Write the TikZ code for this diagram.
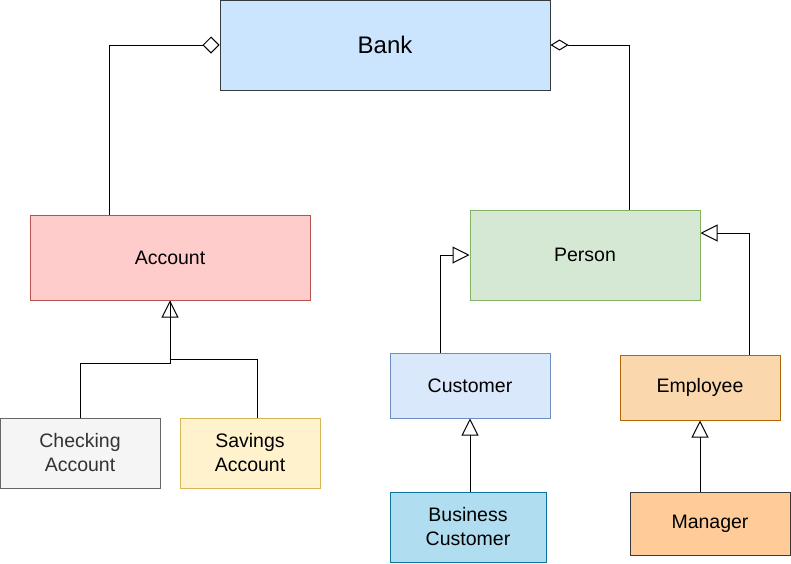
\documentclass[tikz,border=0pt]{standalone}
\usepackage{fontspec}
\setmainfont{Liberation Sans}
\usetikzlibrary{arrows.meta}
\definecolor{bankfill}{HTML}{CCE5FF}
\definecolor{darkline}{HTML}{36393D}
\definecolor{accfill}{HTML}{FFCCCC}
\definecolor{accline}{HTML}{B85450}
\definecolor{perfill}{HTML}{D5E8D4}
\definecolor{perline}{HTML}{82B366}
\definecolor{chkfill}{HTML}{F5F5F5}
\definecolor{chkline}{HTML}{666666}
\definecolor{chktext}{HTML}{333333}
\definecolor{savfill}{HTML}{FFF2CC}
\definecolor{savline}{HTML}{D6B656}
\definecolor{cusfill}{HTML}{DAE8FC}
\definecolor{cusline}{HTML}{6C8EBF}
\definecolor{empfill}{HTML}{FAD7AC}
\definecolor{empline}{HTML}{B46504}
\definecolor{busfill}{HTML}{B1DDF0}
\definecolor{busline}{HTML}{10739E}
\definecolor{manfill}{HTML}{FFCC99}

\begin{document}
\begin{tikzpicture}[x=1pt, y=-1pt, line width=1pt,
  cls/.style = {draw, rectangle, inner sep=0pt, align=center,
    font=\fontsize{19.5}{24}\selectfont},
  agg/.style = {-{Diamond[open, length=17pt, width=17pt]}},
  aggthin/.style = {-{Diamond[open, length=18pt, width=11pt]}},
  inh/.style = {-{Triangle[open, length=17pt, width=17pt]}}]
\useasboundingbox (0,0) rectangle (791,563);
\node[cls, fill=bankfill, draw=darkline, minimum width=330pt, minimum height=90pt,
  font=\fontsize{24}{28}\selectfont] (bank) at (385,45) {Bank};
\node[cls, fill=accfill, draw=accline, minimum width=280pt, minimum height=85pt] (acc) at (170,257.5) {Account};
\node[cls, fill=perfill, draw=perline, minimum width=230pt, minimum height=90pt] (per) at (585,255) {Person};
\node[cls, fill=chkfill, draw=chkline, text=chktext, minimum width=160pt, minimum height=70pt] (chk) at (80,453) {Checking\\Account};
\node[cls, fill=savfill, draw=savline, minimum width=140pt, minimum height=70pt] (sav) at (250,453) {Savings\\Account};
\node[cls, fill=cusfill, draw=cusline, minimum width=160pt, minimum height=65pt] (cus) at (470,385.5) {Customer};
\node[cls, fill=empfill, draw=empline, minimum width=160pt, minimum height=65pt] (emp) at (700,387.5) {Employee};
\node[cls, fill=busfill, draw=busline, minimum width=156pt, minimum height=70pt] (bus) at (468,527) {Business\\Customer};
\node[cls, fill=manfill, draw=darkline, minimum width=160pt, minimum height=63pt] (man) at (710,523.5) {Manager};
% aggregation
\draw[agg] ([xshift=80pt]acc.north west) |- (bank.west);
\draw[aggthin] ([xshift=160pt]per.north west) |- (bank.east);
% inheritance
\draw[inh] (chk.north) -- ++(0,-54) -| (acc.south);
\draw ([xshift=78pt]sav.north west) -- ++(0,-58) -| (acc.south);
\draw[inh] ([xshift=51pt]cus.north west) |- (per.west);
\draw[inh] ([xshift=130pt]emp.north west) |- ([yshift=22pt]per.east);
\draw[inh] (cus.south |- bus.north) -- (cus.south);
\draw[inh] (emp.south |- man.north) -- (emp.south);
\end{tikzpicture}
\end{document}
